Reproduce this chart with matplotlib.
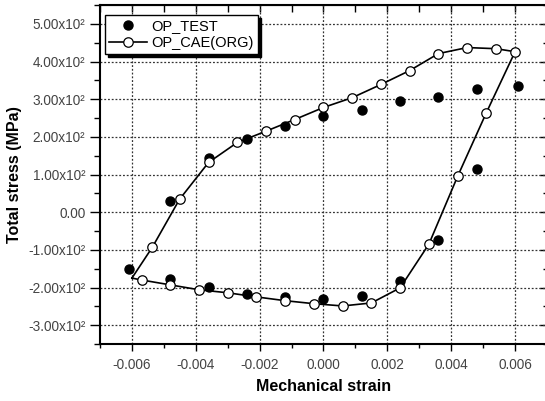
import matplotlib
matplotlib.use('Agg')
import matplotlib.pyplot as plt
from matplotlib.ticker import MultipleLocator, FuncFormatter, NullFormatter

plt.rcParams['font.family'] = ['Liberation Sans', 'DejaVu Sans']
plt.rcParams['axes.unicode_minus'] = False

# OP_TEST (filled markers)
test_strain = [-0.0048, -0.0036, -0.0024, -0.0012, 0.0, 0.0012, 0.0024, 0.0036, 0.0048, 0.0061,
               0.0048, 0.0036, 0.0024, 0.0012, 0.0, -0.0012, -0.0024, -0.0036, -0.0048, -0.0061]
test_stress = [29, 143, 193, 230, 254, 272, 294, 307, 327, 336,
               114, -74, -183, -222, -230, -225, -217, -198, -177, -151]

# OP_CAE(ORG) curve: first and last entries are the loop corner (no marker)
cae_strain = [-0.0060, -0.00536, -0.00451, -0.0036, -0.0027, -0.0018, -0.0009, 0.0, 0.0009,
              0.0018, 0.0027, 0.0036, 0.0045, 0.0054, 0.0060,
              0.0051, 0.0042, 0.0033, 0.0024, 0.0015, 0.0006, -0.0003, -0.0012,
              -0.0021, -0.0030, -0.0039, -0.0048, -0.0057, -0.0060]
cae_stress = [-175, -93, 34, 132, 185, 215, 246, 278, 304,
              339, 376, 421, 437, 434, 426,
              264, 95, -85, -201, -241, -249, -243, -235,
              -225, -214, -206, -193, -180, -175]

fig = plt.figure(figsize=(5.45, 4.01), dpi=100)
ax = fig.add_axes([100 / 545, 57 / 401, 447 / 545, 339 / 401])

ax.plot(test_strain, test_stress, 'o', color='black', ms=6.5, label='OP_TEST', zorder=3)
ax.plot(cae_strain, cae_stress, '-o', color='black', lw=1.2, ms=6.8, mfc='white', mec='black',
        mew=0.9, markevery=list(range(1, len(cae_strain) - 1)), label='OP_CAE(ORG)', zorder=4)

ax.set_xlim(-0.007, 0.007)
ax.set_ylim(-350, 550)

ax.xaxis.set_major_locator(MultipleLocator(0.002))
ax.xaxis.set_minor_locator(MultipleLocator(0.001))
ax.yaxis.set_major_locator(MultipleLocator(100))
ax.yaxis.set_minor_locator(MultipleLocator(50))
ax.xaxis.set_major_formatter(FuncFormatter(lambda v, p: f'{v:.3f}'))


def yfmt(v, p):
    if abs(v) < 1e-9:
        return '0.00'
    return f'{v / 100:.2f}x10²'


ax.yaxis.set_major_formatter(FuncFormatter(yfmt))

ax.tick_params(which='both', labelsize=9.8, labelcolor='#444444', width=1)
ax.tick_params(axis='x', which='major', direction='out', length=5, pad=5)
ax.tick_params(axis='x', which='minor', direction='out', length=3)
ax.tick_params(axis='y', which='major', direction='out', length=7)
ax.tick_params(axis='y', which='minor', direction='out', length=4)
ax.grid(True, which='major', color='#333333', linestyle=(0, (1.5, 1.5)), lw=0.9)
for s in ax.spines.values():
    s.set_linewidth(1.5)

# inward ticks on top and right
top = ax.secondary_xaxis('top')
top.xaxis.set_major_locator(MultipleLocator(0.001))
top.xaxis.set_major_formatter(NullFormatter())
top.tick_params(direction='in', length=5, width=1)
right = ax.secondary_yaxis('right')
right.yaxis.set_major_locator(MultipleLocator(100))
right.yaxis.set_minor_locator(MultipleLocator(50))
right.yaxis.set_major_formatter(NullFormatter())
right.tick_params(which='major', direction='in', length=5, width=1)
right.tick_params(which='minor', direction='in', length=3, width=1)

ax.set_xlabel('Mechanical strain', fontsize=11.5, fontweight='bold', labelpad=5)
ax.set_ylabel('Total stress (MPa)', fontsize=11.5, fontweight='bold', labelpad=4)

leg = ax.legend(loc='upper left', bbox_to_anchor=(0.011, 0.971), borderaxespad=0,
                fontsize=10.5, frameon=True, fancybox=False, edgecolor='black',
                framealpha=1, handlelength=2.6, handletextpad=0.3,
                shadow={'color': 'black', 'alpha': 1}, borderpad=0.3, labelspacing=0.2)
leg.get_frame().set_linewidth(1)

fig.savefig('out.png', dpi=100)
